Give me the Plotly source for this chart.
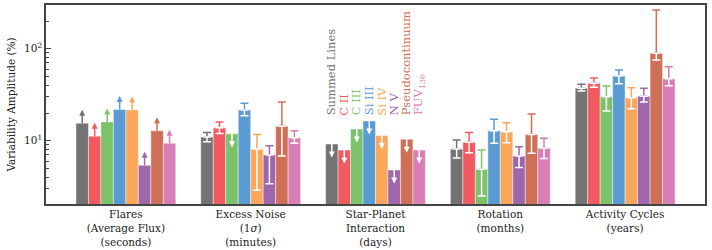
import numpy as np
import plotly.graph_objects as go

groups = ["Flares<br>(Average Flux)<br>(seconds)",
          "Excess Noise<br>(1<i>σ</i>)<br>(minutes)",
          "Star-Planet<br>Interaction<br>(days)",
          "Rotation<br>(months)",
          "Activity Cycles<br>(years)"]

series_names = ["Summed Lines", "C II", "C III", "Si III", "Si IV", "N V",
                "Pseudocontinuum", "FUV<sub>130</sub>"]
colors = ["#737373", "#F15A60", "#7AC36A", "#5A9BD4", "#FAA75B", "#9E67AB",
          "#CE7058", "#D77FB4"]

summed_vals = [15.5, 11.0, 9.2, 8.1, 37.2]
cii_vals = [11.2, 13.8, 7.9, 9.6, 42.1]
ciii_vals = [16.0, 11.9, 13.4, 4.9, 30.1]
siiii_vals = [21.8, 21.6, 16.4, 12.8, 50.5]
siiv_vals = [21.6, 8.1, 11.4, 12.5, 29.3]
nv_vals = [5.4, 7.0, 4.8, 6.8, 30.4]
pseudo_vals = [12.8, 14.4, 10.4, 11.7, 89.1]
fuv_vals = [9.4, 10.8, 7.9, 8.3, 47.2]

summed_plus = [None, 1.3, None, 2.1, 3.8]
summed_minus = [None, 1.25, None, 1.6, 2.5]
cii_plus = [None, 2.2, None, 2.7, 6.0]
cii_minus = [None, 1.8, None, 2.2, 4.1]
ciii_plus = [None, None, None, 3.0, 9.2]
ciii_minus = [None, None, None, 2.4, 9.1]
siiii_plus = [None, 3.9, None, 4.3, 8.1]
siiii_minus = [None, 2.9, None, 3.4, 8.8]
siiv_plus = [None, 3.6, None, 3.2, 8.4]
siiv_minus = [None, 5.2, None, 3.0, 7.0]
nv_plus = [None, 1.8, None, 1.8, 6.8]
nv_minus = [None, 3.6, None, 1.7, 4.0]
pseudo_plus = [None, 12.0, None, 7.8, 174.0]
pseudo_minus = [None, 7.6, None, 4.4, 13.8]
fuv_plus = [None, 2.0, None, 2.3, 16.5]
fuv_minus = [None, 1.4, None, 1.9, 7.6]

# 'lower' = lower limit (up arrow), 'upper' = upper limit (down arrow)
summed_lim = ["lower", "", "upper", "", ""]
cii_lim = ["lower", "", "upper", "", ""]
ciii_lim = ["lower", "upper", "upper", "", ""]
siiii_lim = ["lower", "", "upper", "", ""]
siiv_lim = ["lower", "", "upper", "", ""]
nv_lim = ["lower", "", "upper", "", ""]
pseudo_lim = ["lower", "", "upper", "", ""]
fuv_lim = ["lower", "", "upper", "", ""]

values = [summed_vals, cii_vals, ciii_vals, siiii_vals, siiv_vals, nv_vals, pseudo_vals, fuv_vals]
plus = [summed_plus, cii_plus, ciii_plus, siiii_plus, siiv_plus, nv_plus, pseudo_plus, fuv_plus]
minus = [summed_minus, cii_minus, ciii_minus, siiii_minus, siiv_minus, nv_minus, pseudo_minus, fuv_minus]
limits = [summed_lim, cii_lim, ciii_lim, siiii_lim, siiv_lim, nv_lim, pseudo_lim, fuv_lim]

FONT = "DejaVu Serif"
nser = len(series_names)
bw = 0.8 / nser
gpos = np.arange(len(groups))

fig = go.Figure()
annotations = []
for i in range(nser):
    xs = gpos + (i - (nser - 1) / 2) * bw
    fig.add_trace(go.Bar(x=xs, y=values[i], width=bw, marker=dict(color=colors[i],
                         line=dict(color="rgba(255,255,255,0.55)", width=0.8)),
                         showlegend=False, hoverinfo="skip"))
for i in range(nser):
    xs = gpos + (i - (nser - 1) / 2) * bw
    ye = [v if p is not None else None for v, p in zip(values[i], plus[i])]
    pp = [p if p is not None else 0 for p in plus[i]]
    mm = [m if m is not None else 0 for m in minus[i]]
    zeros = [0] * len(pp)
    fig.add_trace(go.Scatter(x=xs, y=ye, mode="markers", marker=dict(opacity=0, size=1),
                             error_y=dict(type="data", symmetric=False, array=pp, arrayminus=zeros,
                                          color=colors[i], thickness=1.5, width=4),
                             showlegend=False, hoverinfo="skip"))
    fig.add_trace(go.Scatter(x=xs, y=ye, mode="markers", marker=dict(opacity=0, size=1),
                             error_y=dict(type="data", symmetric=False, array=zeros, arrayminus=mm,
                                          color="white", thickness=1.5, width=4),
                             showlegend=False, hoverinfo="skip"))
    for g, (x, v, lim) in enumerate(zip(xs, values[i], limits[i])):
        if lim:
            up = lim == "lower"
            annotations.append(dict(x=x, y=np.log10(v), xref="x", yref="y", text="",
                                    font=dict(size=1), borderpad=0,
                                    showarrow=True, axref="pixel", ayref="pixel",
                                    ax=0, ay=-14 if up else 14,
                                    arrowside="start", startarrowhead=2, startarrowsize=0.8,
                                    arrowwidth=1.5, arrowcolor=colors[i] if up else "white"))

# series labels above the Star-Planet group
lab_group = 2
for i in range(nser):
    x = lab_group + (i - (nser - 1) / 2) * bw
    annotations.append(dict(x=x, y=0.435, xref="x", yref="paper", text=series_names[i],
                            textangle=-90, showarrow=False, xanchor="center", yanchor="bottom",
                            font=dict(family=FONT, size=11.5, color=colors[i])))

fig.update_layout(
    width=712, height=250,
    margin=dict(l=46, r=7, t=5, b=46, autoexpand=False),
    paper_bgcolor="white", plot_bgcolor="white",
    barmode="overlay",
    font=dict(family=FONT, size=10.5, color="#222"),
    annotations=annotations,
)
fig.update_xaxes(range=[-0.64, 4.64], tickvals=gpos, ticktext=groups, ticks="",
                 showline=True, mirror=True, linecolor="#444", linewidth=1.5, automargin=False,
                 showgrid=False, zeroline=False, tickfont=dict(family=FONT, size=10.5))
fig.update_yaxes(type="log", range=[0.312, 2.475], tickvals=[10, 100],
                 ticktext=["10<sup>1</sup>", "10<sup>2</sup>"], ticks="inside", ticklen=5,
                 tickcolor="#444", showline=True, mirror=True, linecolor="#444", linewidth=1.5,
                 showgrid=False, zeroline=False, automargin=False,
                 minor=dict(tickvals=[2, 3, 4, 5, 6, 7, 8, 9, 20, 30, 40, 50, 60, 70, 80, 90, 200],
                            ticks="inside", ticklen=3, tickcolor="#444", showgrid=False),
                 title=dict(text="Variability Amplitude (%)", font=dict(family=FONT, size=10.5), standoff=6),
                 tickfont=dict(family=FONT, size=10.5))

fig.write_html("out.html", config={"displayModeBar": False},
               post_script="document.body.style.margin='0';")
